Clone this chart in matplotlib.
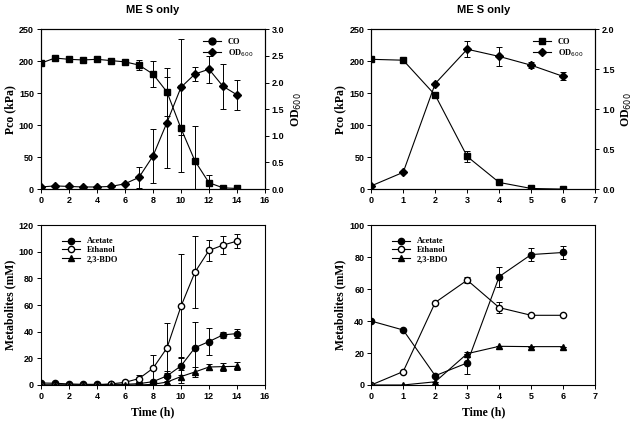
"""
Gas consumption, growth and metabolite profiles (MES only), two runs side by side
"""

import matplotlib
matplotlib.use("Agg")
import matplotlib.pyplot as plt
from matplotlib.lines import Line2D

# ---- left column: 0-14 h run ----
time_a = list(range(15))
co_a = [197, 205, 203, 202, 203, 201, 199, 194, 180, 152, 95, 44, 10, 2, 1]
co_a_err = [0, 0, 0, 0, 0, 0, 0, 8, 20, 37, 68, 55, 12, 0, 0]
od_a = [0.04, 0.06, 0.05, 0.04, 0.04, 0.05, 0.10, 0.22, 0.62, 1.25, 1.91, 2.16, 2.25, 1.93, 1.77]
od_a_err = [0, 0, 0, 0, 0, 0, 0, 0.19, 0.50, 0.86, 0.90, 0.14, 0.25, 0.42, 0.28]
acetate_a = [1.5, 1.3, 0.8, 0.5, 0.5, 0.5, 0.5, 1.0, 2.5, 6.8, 14.3, 28.0, 32.6, 37.6, 38.6]
acetate_a_err = [0, 0, 0, 0, 0, 0, 0, 0, 0, 4, 7, 19, 10, 2, 3.4]
ethanol_a = [0, 0, 0, 0, 0, 0.8, 2.0, 4.8, 12.5, 27.8, 59.0, 84.7, 101.0, 105.0, 108.0]
ethanol_a_err = [0, 0, 0, 0, 0, 0, 0, 2.7, 10, 19, 39, 27, 8, 6.5, 5]
bdo_a = [0, 0, 0, 0, 0, 0, 0, 0, 0.5, 2.2, 6.3, 9.8, 13.5, 13.8, 14.0]
bdo_a_err = [0, 0, 0, 0, 0, 0, 0, 0, 0, 3, 5, 4, 2, 3, 3]

# ---- right column: 0-6 h run ----
time_b = list(range(7))
co_b = [203, 201.6, 147, 51, 10.4, 1, 0]
co_b_err = [0, 0, 0, 8.5, 0, 0, 0]
od_b = [0.04, 0.21, 1.32, 1.75, 1.66, 1.55, 1.41]
od_b_err = [0, 0, 0, 0.10, 0.115, 0.04, 0.05]
acetate_b = [40.0, 34.4, 5.8, 13.8, 67.8, 81.6, 82.9]
acetate_b_err = [0, 0, 0, 7, 6.3, 4.3, 4.3]
ethanol_b = [0, 8.4, 51.6, 65.6, 48.4, 43.6, 43.6]
ethanol_b_err = [0, 0, 0, 2, 3.6, 0, 0]
bdo_b = [0, 0, 2.0, 19.6, 24.2, 24.0, 24.0]
bdo_b_err = [0, 0, 0, 0, 0, 0, 0]

TICK_FONT = dict(family="Liberation Sans", weight="bold", size=6.5)
LABEL_FONT = dict(family="Liberation Serif", weight="bold", size=8.5)
LEG_FONT = dict(family="Liberation Serif", weight="bold", size=6)

style = dict(color="black", lw=0.8, ms=4.5, capsize=2, elinewidth=0.7, capthick=0.7)


def style_ticks(ax):
    for lab in ax.get_xticklabels() + ax.get_yticklabels():
        lab.set_fontfamily(TICK_FONT["family"])
        lab.set_fontweight(TICK_FONT["weight"])
        lab.set_fontsize(TICK_FONT["size"])
    ax.tick_params(direction="out", length=3, width=0.7, pad=2)
    for s in ax.spines.values():
        s.set_linewidth(0.8)


def gas_panel(ax, t, co, co_err, od, od_err, xmax, odmax, odticks, co_handle):
    ax.errorbar(t, co, yerr=co_err, marker="s", mfc="black", **style)
    ax2 = ax.twinx()
    ax2.errorbar(t, od, yerr=od_err, marker="D", mfc="black", **dict(style, ms=4))
    ax.set_xlim(0, xmax)
    ax.set_ylim(0, 250)
    ax2.set_ylim(0, odmax)
    ax.set_xticks(range(0, xmax + 1, 2 if xmax > 8 else 1))
    ax.set_yticks(range(0, 251, 50))
    ax2.set_yticks(odticks)
    ax2.set_yticklabels([f"{v:.1f}" for v in odticks])
    ax.set_ylabel("Pco (kPa)", fontdict=LABEL_FONT, labelpad=2)
    ax2.set_ylabel("OD$_{600}$", fontdict=LABEL_FONT, labelpad=4)
    style_ticks(ax)
    style_ticks(ax2)
    ax.set_title("ME S only", fontdict=dict(family="Liberation Sans", weight="bold", size=8), pad=12)
    handles = [
        Line2D([], [], color="black", lw=0.8, marker=co_handle, ms=5),
        Line2D([], [], color="black", lw=0.8, marker="D", ms=4),
    ]
    ax.legend(handles, ["CO", "OD$_{600}$"], loc="upper right", bbox_to_anchor=(0.98, 0.99),
              frameon=False, prop=LEG_FONT, handlelength=2.2, labelspacing=0.1)


def metab_panel(ax, t, ac, ac_err, et, et_err, bd, bd_err, xmax, ymax, ystep):
    ax.errorbar(t, ac, yerr=ac_err, marker="o", mfc="black", label="Acetate", **style)
    ax.errorbar(t, et, yerr=et_err, marker="o", mfc="white", label="Ethanol", **style)
    ax.errorbar(t, bd, yerr=bd_err, marker="^", mfc="black", label="2,3-BDO", **style)
    ax.set_xlim(0, xmax)
    ax.set_ylim(0, ymax)
    ax.set_xticks(range(0, xmax + 1, 2 if xmax > 8 else 1))
    ax.set_yticks(range(0, ymax + 1, ystep))
    ax.set_ylabel("Metabolites (mM)", fontdict=LABEL_FONT, labelpad=2)
    ax.set_xlabel("Time (h)", fontdict=LABEL_FONT, labelpad=4)
    style_ticks(ax)
    handles, labels = ax.get_legend_handles_labels()
    handles = [h[0] for h in handles]
    ax.legend(handles, labels, loc="upper left", bbox_to_anchor=(0.06, 0.97), frameon=False,
              prop=LEG_FONT, handlelength=2.2, labelspacing=0.1)


fig = plt.figure(figsize=(6.4, 4.24), dpi=100)
ax_tl = fig.add_axes([0.064, 0.554, 0.35, 0.377])
ax_tr = fig.add_axes([0.580, 0.554, 0.35, 0.377])
ax_bl = fig.add_axes([0.064, 0.092, 0.35, 0.377])
ax_br = fig.add_axes([0.580, 0.092, 0.35, 0.377])

gas_panel(ax_tl, time_a, co_a, co_a_err, od_a, od_a_err, 16, 3.0,
          [0, 0.5, 1.0, 1.5, 2.0, 2.5, 3.0], "o")
gas_panel(ax_tr, time_b, co_b, co_b_err, od_b, od_b_err, 7, 2.0,
          [0, 0.5, 1.0, 1.5, 2.0], "s")
metab_panel(ax_bl, time_a, acetate_a, acetate_a_err, ethanol_a, ethanol_a_err,
            bdo_a, bdo_a_err, 16, 120, 20)
metab_panel(ax_br, time_b, acetate_b, acetate_b_err, ethanol_b, ethanol_b_err,
            bdo_b, bdo_b_err, 7, 100, 20)

fig.savefig("out.png", dpi=100)
